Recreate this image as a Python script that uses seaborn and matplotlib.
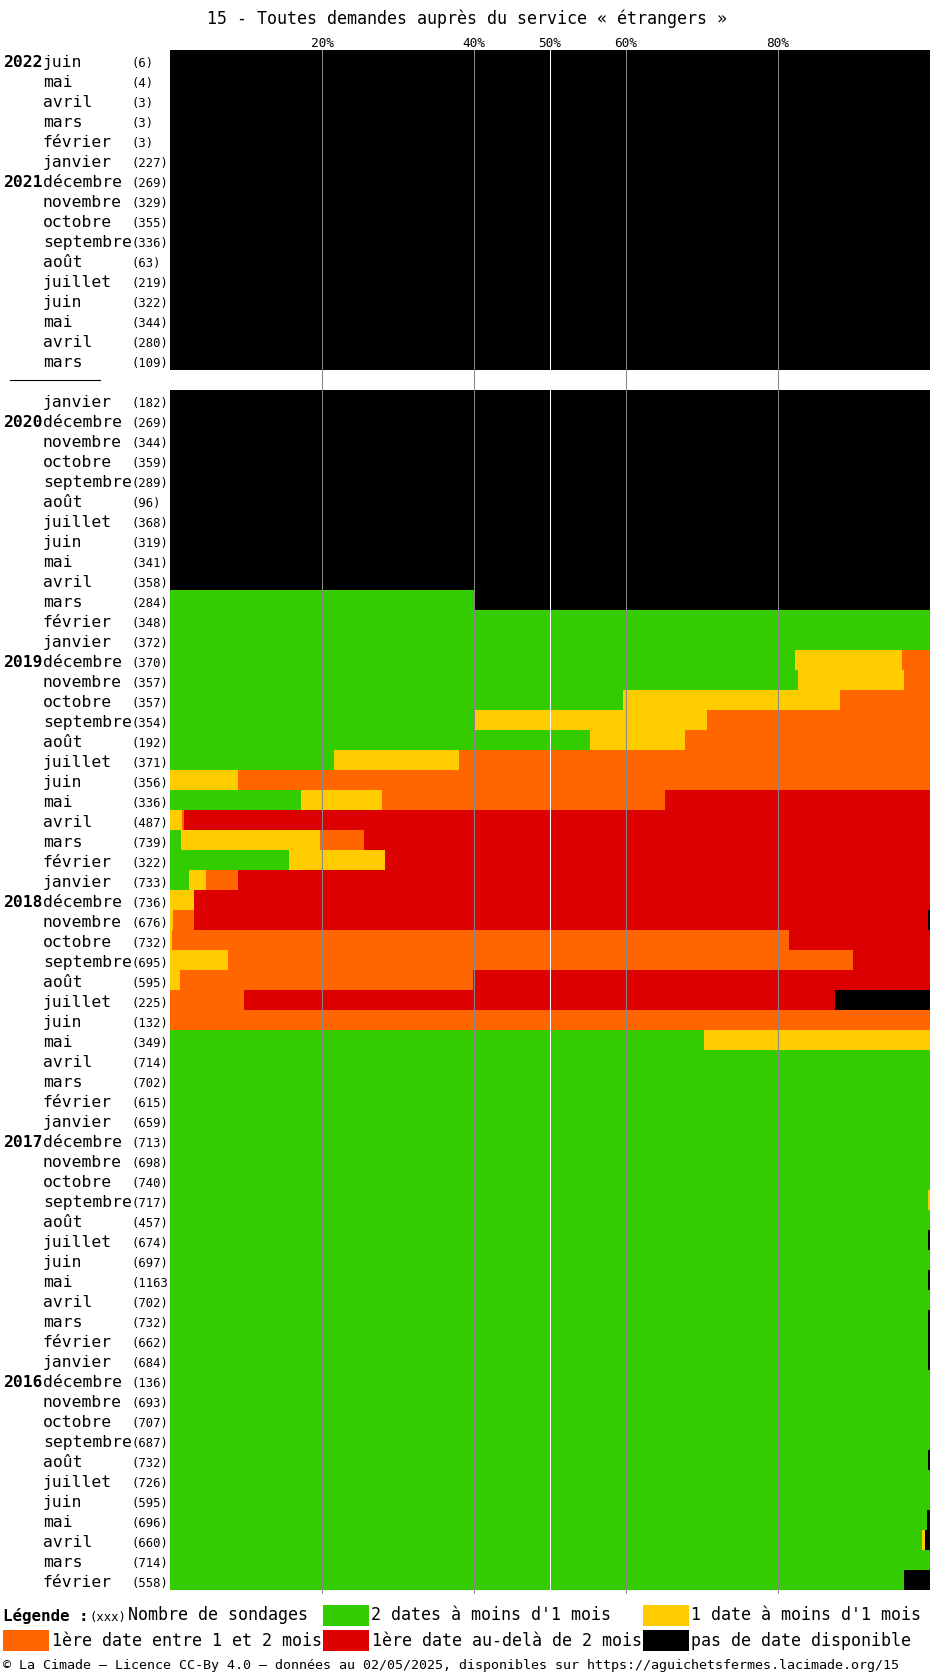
import matplotlib
matplotlib.use("Agg")
import matplotlib.pyplot as plt
import seaborn as sns
import pandas as pd
from matplotlib.patches import Rectangle

W, H = 930, 1675
MONO = "DejaVu Sans Mono"

# ---------------- data ----------------
months = ["juin", "mai", "avril", "mars", "février", "janvier",
          "décembre", "novembre", "octobre", "septembre", "août", "juillet", "juin", "mai", "avril", "mars",
          "",
          "janvier",
          "décembre", "novembre", "octobre", "septembre", "août", "juillet", "juin", "mai", "avril", "mars", "février", "janvier",
          "décembre", "novembre", "octobre", "septembre", "août", "juillet", "juin", "mai", "avril", "mars", "février", "janvier",
          "décembre", "novembre", "octobre", "septembre", "août", "juillet", "juin", "mai", "avril", "mars", "février", "janvier",
          "décembre", "novembre", "octobre", "septembre", "août", "juillet", "juin", "mai", "avril", "mars", "février", "janvier",
          "décembre", "novembre", "octobre", "septembre", "août", "juillet", "juin", "mai", "avril", "mars", "février"]

year_rows = {0: "2022", 6: "2021", 18: "2020", 30: "2019", 42: "2018", 54: "2017", 66: "2016"}

counts = [6, 4, 3, 3, 3, 227, 269, 329, 355, 336, 63, 219, 322, 344, 280, 109,
          None,
          182, 269, 344, 359, 289, 96, 368, 319, 341, 358, 284, 348, 372,
          370, 357, 357, 354, 192, 371, 356, 336, 487, 739, 322, 733,
          736, 676, 732, 695, 595, 225, 132, 349, 714, 702, 615, 659,
          713, 698, 740, 717, 457, 674, 697, 1163, 702, 732, 662, 684,
          136, 693, 707, 687, 732, 726, 595, 696, 660, 714, 558]

# percentages: 2 dates < 1 mois
green = [0, 0, 0, 0, 0, 0, 0, 0, 0, 0, 0, 0, 0, 0, 0, 0,
         0,
         0, 0, 0, 0, 0, 0, 0, 0, 0, 0,
         40, 100, 100, 82.3, 82.6, 59.6, 40.0, 55.3, 21.6, 0,
         17.2, 0, 1.4, 15.6, 2.5, 0, 0, 0, 0, 0,
         0, 0, 70.3, 100, 100, 100, 100, 100, 100, 100,
         99.7, 100, 99.7, 100, 99.7, 100, 99.7, 99.7, 99.7, 100,
         100, 100, 100, 99.7, 100, 100, 99.6, 99.0, 100, 96.6]
# 1 date < 1 mois
yellow = [0, 0, 0, 0, 0, 0, 0, 0, 0, 0, 0, 0, 0, 0, 0, 0,
          0,
          0, 0, 0, 0, 0, 0, 0, 0, 0, 0,
          0, 0, 0, 14.0, 14.0, 28.5, 30.7, 12.5, 16.4, 8.9,
          10.7, 1.6, 18.4, 12.7, 2.2, 3.1, 0.35, 0.3, 7.6, 1.3,
          0, 0, 29.7, 0, 0, 0, 0, 0, 0, 0,
          0.3, 0, 0, 0, 0, 0, 0, 0, 0, 0,
          0, 0, 0, 0, 0, 0, 0, 0.3, 0, 0]
# 1ère date entre 1 et 2 mois
orange = [0, 0, 0, 0, 0, 0, 0, 0, 0, 0, 0, 0, 0, 0, 0, 0,
          0,
          0, 0, 0, 0, 0, 0, 0, 0, 0, 0,
          0, 0, 0, 3.7, 3.4, 11.9, 29.3, 32.2, 62.0, 91.1,
          37.2, 0.2, 5.7, 0, 4.2, 0, 2.8, 81.1, 82.3, 38.6,
          9.7, 100, 0, 0, 0, 0, 0, 0, 0, 0,
          0, 0, 0, 0, 0, 0, 0, 0, 0, 0,
          0, 0, 0, 0, 0, 0, 0, 0, 0, 0]
# 1ère date au-delà de 2 mois
red = [0, 0, 0, 0, 0, 0, 0, 0, 0, 0, 0, 0, 0, 0, 0, 0,
       0,
       0, 0, 0, 0, 0, 0, 0, 0, 0, 0,
       0, 0, 0, 0, 0, 0, 0, 0, 0, 0,
       34.9, 98.2, 74.5, 71.7, 91.1, 96.9, 96.6, 18.6, 10.1, 60.1,
       77.8, 0, 0, 0, 0, 0, 0, 0, 0, 0,
       0, 0, 0, 0, 0, 0, 0, 0, 0, 0,
       0, 0, 0, 0, 0, 0, 0, 0, 0, 0]
# pas de date disponible
black = [100, 100, 100, 100, 100, 100, 100, 100, 100, 100, 100, 100, 100, 100, 100, 100,
         0,
         100, 100, 100, 100, 100, 100, 100, 100, 100, 100,
         60, 0, 0, 0, 0, 0, 0, 0, 0, 0,
         0, 0, 0, 0, 0, 0, 0.25, 0, 0, 0,
         12.5, 0, 0, 0, 0, 0, 0, 0, 0, 0,
         0, 0, 0.3, 0, 0.3, 0, 0.3, 0.3, 0.3, 0,
         0, 0, 0, 0.3, 0, 0, 0.4, 0.7, 0, 3.4]

tick_values = [20, 40, 50, 60, 80]
tick_labels = ["20%", "40%", "50%", "60%", "80%"]

C_GREEN, C_YELLOW, C_ORANGE, C_RED, C_BLACK = "#33cc00", "#ffcc00", "#ff6600", "#dd0000", "#000000"

# ---------------- figure ----------------
fig = plt.figure(figsize=(W / 100, H / 100), dpi=100)
fig.patch.set_facecolor("white")

def fx(x):
    return x / W

def fy(y):
    return 1 - y / H

top_px, bot_px = 50, 1594
ax = fig.add_axes([fx(170), fy(bot_px), 760 / W, (bot_px - top_px) / H])
ax.set_facecolor("white")

n = len(months)
slots = [f"r{i:02d}" for i in range(n)]
df = pd.DataFrame({"slot": slots, "g": green, "y": yellow, "o": orange, "r": red, "b": black})
df["c_y"] = df["g"] + df["y"]
df["c_o"] = df["c_y"] + df["o"]
df["c_r"] = df["c_o"] + df["r"]
df["c_b"] = df["c_r"] + df["b"]

for col, colr in [("c_b", C_BLACK), ("c_r", C_RED), ("c_o", C_ORANGE), ("c_y", C_YELLOW), ("g", C_GREEN)]:
    sns.barplot(data=df, x=col, y="slot", order=slots, orient="h", color=colr,
                saturation=1, width=1.0, linewidth=0, errorbar=None, ax=ax)

ax.set_xlim(0, 100)
ax.set_ylim(n - 0.5 + 0.2, -0.5)
for s in ax.spines.values():
    s.set_visible(False)
ax.set_xlabel("")
ax.set_ylabel("")
ax.set_yticks([])
ax.xaxis.set_ticks_position("top")
ax.set_xticks(tick_values)
ax.set_xticklabels(tick_labels, fontfamily=MONO, fontsize=9.2)
ax.tick_params(axis="x", length=0, pad=0.2)

for v in tick_values:
    ax.axvline(v, color="white" if v == 50 else "#888888", lw=0.75, zorder=5)

# title
fig.text(fx(467), fy(24), "15 - Toutes demandes auprès du service « étrangers »",
         ha="center", va="baseline", fontfamily=MONO, fontsize=12)

# row labels
for i, m in enumerate(months):
    yb = top_px + 20 * i + 17.3
    if m:
        fig.text(fx(43), fy(yb), m, ha="left", va="baseline", fontfamily=MONO, fontsize=11.8)
        fig.text(fx(131.5), fy(yb), f"({counts[i]})", ha="left", va="baseline",
                 fontfamily=MONO, fontsize=8.8, zorder=-1)
    if i in year_rows:
        fig.text(fx(3), fy(yb), year_rows[i], ha="left", va="baseline", fontfamily=MONO,
                 fontsize=11.8, fontweight="bold")

# separator for the gap
fig.add_artist(plt.Line2D([fx(10), fx(100)], [fy(380), fy(380)], color="black", lw=0.8))

# legend
def swatch(x0, y0, col):
    fig.add_artist(Rectangle((fx(x0), fy(y0 + 21)), 46 / W, 21 / H, transform=fig.transFigure,
                             facecolor=col, edgecolor="none"))

b1, b2 = 1620.5, 1645.5
fig.text(fx(3), fy(b1), "Légende :", ha="left", va="baseline", fontfamily=MONO, fontsize=11.4, fontweight="bold")
fig.text(fx(89), fy(b1), "(xxx)", ha="left", va="baseline", fontfamily=MONO, fontsize=8.8)
fig.text(fx(127.5), fy(b1), "Nombre de sondages", ha="left", va="baseline", fontfamily=MONO, fontsize=12)
swatch(323, 1605, C_GREEN)
fig.text(fx(371), fy(b1), "2 dates à moins d'1 mois", ha="left", va="baseline", fontfamily=MONO, fontsize=12)
swatch(643, 1605, C_YELLOW)
fig.text(fx(691), fy(b1), "1 date à moins d'1 mois", ha="left", va="baseline", fontfamily=MONO, fontsize=12)
swatch(3, 1630, C_ORANGE)
fig.text(fx(52), fy(b2), "1ère date entre 1 et 2 mois", ha="left", va="baseline", fontfamily=MONO, fontsize=12)
swatch(323, 1630, C_RED)
fig.text(fx(372), fy(b2), "1ère date au-delà de 2 mois", ha="left", va="baseline", fontfamily=MONO, fontsize=12)
swatch(643, 1630, C_BLACK)
fig.text(fx(691), fy(b2), "pas de date disponible", ha="left", va="baseline", fontfamily=MONO, fontsize=12)

fig.text(fx(3), fy(1669.5),
         "© La Cimade – Licence CC-By 4.0 – données au 02/05/2025, disponibles sur https://aguichetsfermes.lacimade.org/15",
         ha="left", va="baseline", fontfamily=MONO, fontsize=9.6)

fig.savefig("out.png", dpi=100, facecolor="white")
